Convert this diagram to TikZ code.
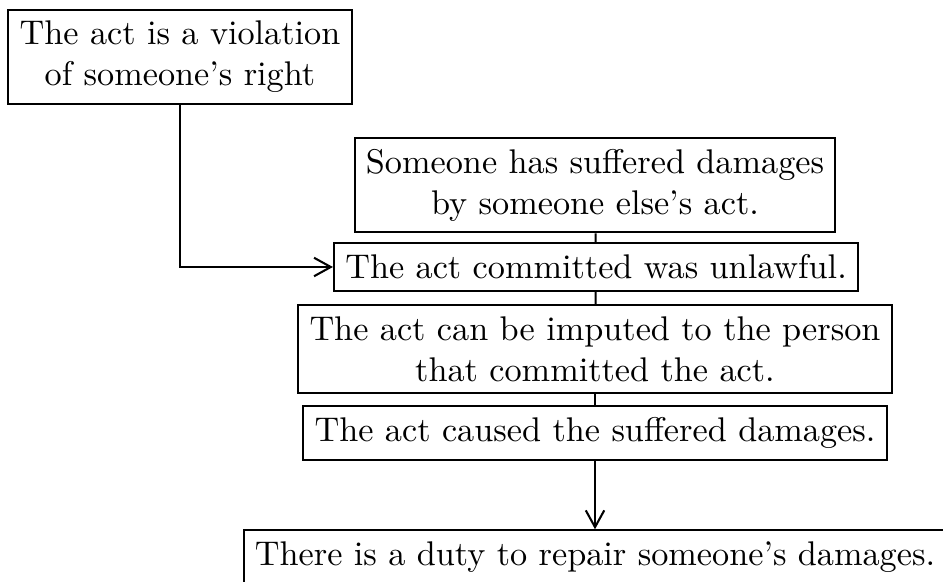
\documentclass[tikz,border=0pt]{standalone}
\usetikzlibrary{arrows.meta}
\begin{document}
\begin{tikzpicture}[x=0.292pt,y=-0.292pt,
  box/.style={draw,line width=0.6pt,align=center,inner sep=3.3pt},
  conn/.style={line width=0.6pt},
  tip/.style={-{Straight Barb[length=4.9pt,width=5.4pt,line width=0.6pt]}}]
\useasboundingbox (0,0) rectangle (943,582);
\node[box] (A) at (180,57) {The act is a violation\\of someone's right};
\node[box] (B) at (595,185) {Someone has suffered damages\\by someone else's act.};
\node[box] (C) at (596,267) {The act committed was unlawful.};
\node[box] (D) at (595,349) {The act can be imputed to the person\\that committed the act.};
\node[box] (E) at (595,433) {The act caused the suffered damages.};
\node[box] (F) at (595,557) {There is a duty to repair someone's damages.};
\draw[conn] (B) -- (C);
\draw[conn] (C) -- (D);
\draw[conn] (D) -- (E);
\draw[conn,tip] (E) -- (F);
\draw[conn,tip] (A.south) |- (C.west);
\end{tikzpicture}
\end{document}
